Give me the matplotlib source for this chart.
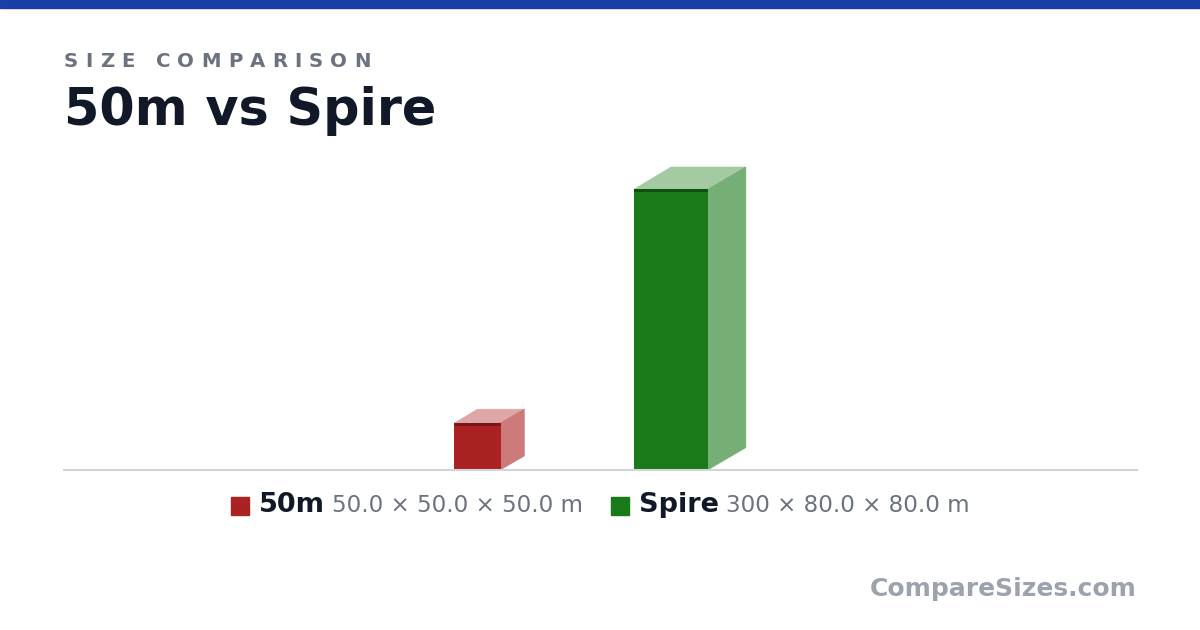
import matplotlib

matplotlib.use("Agg")
import matplotlib.pyplot as plt
from matplotlib.patches import Polygon, Rectangle
from matplotlib.colors import to_rgb

plt.rcParams["font.family"] = ["DejaVu Sans"]

# objects: name, height, width, depth (metres)
names = ["50m", "Spire"]
heights = [50.0, 300.0]
widths = [50.0, 80.0]
depths = [50.0, 80.0]
dims_text = ["50.0 × 50.0 × 50.0 m", "300 × 80.0 × 80.0 m"]
colors = ["#AA2222", "#1A7A1A"]
edge_colors = ["#7A1818", "#0F4F0F"]

W, H = 1200, 630
PX_PER_M = 0.935
GAP_M = 142.0
GROUND_PX = 470  # from top


def tint(c, a):
    r, g, b = to_rgb(c)
    return (1 - a * (1 - r), 1 - a * (1 - g), 1 - a * (1 - b))


fig = plt.figure(figsize=(W / 100, H / 100), dpi=100, facecolor="white")

# top accent bar
fig.patches.append(Rectangle((0, H - 8), W, 8, transform=None, color="#1A40A8", zorder=5))

# chart area in metres, full width, ground at bottom
ax = fig.add_axes([0, (H - GROUND_PX) / H, 1, GROUND_PX / H])
ax.set_xlim(0, W / PX_PER_M)
ax.set_ylim(0, GROUND_PX / PX_PER_M)
ax.set_axis_off()

total = sum(widths) + GAP_M * (len(widths) - 1) + 0.5 * depths[-1]
x = W / 2 / PX_PER_M - total / 2
stripe = 3 / PX_PER_M
for h, w, d, c, ec in zip(heights, widths, depths, colors, edge_colors):
    dx, dy = 0.5 * d, 0.3 * d
    ax.add_patch(Polygon([(x, h), (x + w, h), (x + w + dx, h + dy), (x + dx, h + dy)],
                         closed=True, facecolor=tint(c, 0.4), edgecolor=tint(c, 0.4), lw=0.5))
    ax.add_patch(Polygon([(x + w - 1, 0), (x + w + dx, dy), (x + w + dx, h + dy), (x + w - 1, h)],
                         closed=True, facecolor=tint(c, 0.6), edgecolor=tint(c, 0.6), lw=0.5))
    ax.add_patch(Rectangle((x, 0), w, h, facecolor=c, edgecolor="none"))
    ax.add_patch(Rectangle((x, h - stripe), w, stripe, facecolor=ec, edgecolor="none"))
    x += w + GAP_M

# ground line
fig.add_artist(plt.Line2D([64, 1137], [H - GROUND_PX, H - GROUND_PX], transform=None,
                          color="#D1D5DB", lw=1.5, zorder=4))

renderer = fig.canvas.get_renderer()

# spaced-out kicker
cx = 64
for ch in "SIZE COMPARISON":
    t = fig.text(cx, H - 67, ch, transform=None, fontsize=14.2, fontweight="bold",
                 color="#6B7280", va="baseline", ha="left")
    if ch == " ":
        cx += 7 + 7
    else:
        cx += t.get_window_extent(renderer).width + 7.1

fig.text(64, H - 125, "50m vs Spire", transform=None, fontsize=36.6, fontweight="bold",
         color="#111827", va="baseline", ha="left")

# legend, centred
base_y = H - 512
items = []
for n, dt, c in zip(names, dims_text, colors):
    tb = fig.text(0, base_y, n, transform=None, fontsize=19.5, fontweight="bold",
                  color="#111827", va="baseline")
    tg = fig.text(0, base_y, dt, transform=None, fontsize=16.6, color="#6B7280",
                  va="baseline")
    items.append((tb, tg, c))
sq, gap1, gap2, gap3 = 18, 10, 7, 28
widths_px = []
for tb, tg, c in items:
    widths_px.append(sq + gap1 + tb.get_window_extent(renderer).width + gap2
                     + tg.get_window_extent(renderer).width)
lx = W / 2 - (sum(widths_px) + gap3 * (len(items) - 1)) / 2
for (tb, tg, c), wp in zip(items, widths_px):
    fig.patches.append(Rectangle((lx, H - 515), sq, sq, transform=None, color=c))
    tb.set_x(lx + sq + gap1)
    tg.set_x(lx + sq + gap1 + tb.get_window_extent(renderer).width + gap2)
    lx += wp + gap3

fig.text(1137, H - 596, "CompareSizes.com", transform=None, fontsize=18, fontweight="bold",
         color="#9CA3AF", va="baseline", ha="right")

fig.savefig("out.png", dpi=100, facecolor="white")
